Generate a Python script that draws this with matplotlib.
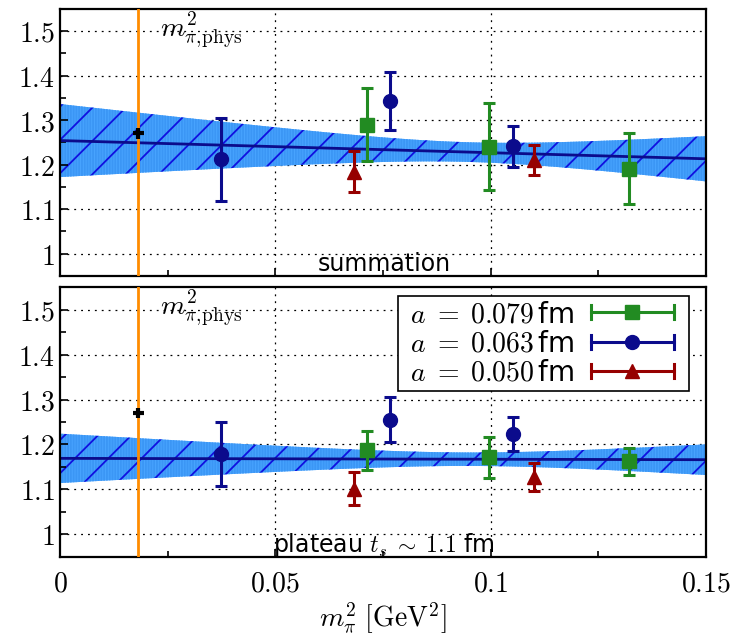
import numpy as np
import matplotlib
matplotlib.use("Agg")
import matplotlib.pyplot as plt
from matplotlib.lines import Line2D
from matplotlib.legend_handler import HandlerBase

plt.rcParams['mathtext.fontset'] = 'cm'
plt.rcParams['font.family'] = ['DejaVu Sans']
plt.rcParams['hatch.linewidth'] = 1.3

# ---------------- data ----------------
m_phys2 = 0.0182
phys_x_err = 0.0012
phys_sum, phys_sum_err = 1.27, 0.012
phys_plat, phys_plat_err = 1.27, 0.012

x_079 = [0.0714, 0.0997, 0.1322]
x_063 = [0.0374, 0.0766, 0.1052]
x_050 = [0.0683, 0.1101]

sum_079 = [1.290, 1.240, 1.191]
sum_079_err = [0.082, 0.098, 0.080]
sum_063 = [1.212, 1.342, 1.241]
sum_063_err = [0.093, 0.065, 0.046]
sum_050 = [1.184, 1.211]
sum_050_err = [0.046, 0.034]

plat_079 = [1.187, 1.171, 1.162]
plat_079_err = [0.044, 0.045, 0.030]
plat_063 = [1.179, 1.255, 1.223]
plat_063_err = [0.071, 0.050, 0.037]
plat_050 = [1.101, 1.128]
plat_050_err = [0.037, 0.031]

# linear fit parameters: intercept, slope, sigma_a, sigma_b, correlation
fit_sum = (1.254, -0.273, 0.082, 0.831, -0.963)
fit_plat = (1.169, -0.020, 0.055, 0.557, -0.962)

labels = [r' $a\;=\;0.079\,$fm', r' $a\;=\;0.063\,$fm', r' $a\;=\;0.050\,$fm']
colors = ['#228b22', '#0b0b8c', '#960000']
markers = ['s', 'o', '^']

ytick_vals = [1.0, 1.1, 1.2, 1.3, 1.4, 1.5]
ytick_labels = ['$1$', '$1.1$', '$1.2$', '$1.3$', '$1.4$', '$1.5$']
xtick_vals = [0, 0.05, 0.1, 0.15]
xtick_labels = ['$0$', '$0.05$', '$0.1$', '$0.15$']

# ---------------- figure ----------------
fig = plt.figure(figsize=(7.34, 6.4), dpi=100)
ax1 = fig.add_axes([0.0817, 0.5688, 0.8802, 0.4176])
ax2 = fig.add_axes([0.0817, 0.1302, 0.8802, 0.4209])

xx = np.linspace(0, 0.15, 300)


def band(ax, fit):
    a, b, sa, sb, rho = fit
    c = a + b * xx
    w = np.sqrt(sa**2 + 2 * rho * sa * sb * xx + sb**2 * xx**2)
    ax.fill_between(xx, c - w, c + w, facecolor='#48a4ff', edgecolor='none', zorder=1)
    ax.fill_between(xx, c - w, c + w, facecolor='none', edgecolor='#3b96f5',
                    hatch='||||||', linewidth=0, zorder=1.1)
    ax.fill_between(xx, c - w, c + w, facecolor='none', edgecolor='#1010e0',
                    hatch='/', linewidth=0, zorder=1.2)
    ax.plot(xx, c, color='#0b0b8c', lw=2, zorder=2)


def points(ax, xs_list, ys_list, es_list):
    for xs, ys, es, col, mk in zip(xs_list, ys_list, es_list, colors, markers):
        ms = 10 if mk in ('o', '^') else 9.5
        ax.errorbar(xs, ys, yerr=es, fmt=mk, color=col, ms=ms, elinewidth=2.2,
                    capsize=4, capthick=2.2, zorder=5)


for ax, fit, ys_list, es_list, phys, perr, txt in [
    (ax1, fit_sum, [sum_079, sum_063, sum_050], [sum_079_err, sum_063_err, sum_050_err],
     phys_sum, phys_sum_err, 'summation'),
    (ax2, fit_plat, [plat_079, plat_063, plat_050], [plat_079_err, plat_063_err, plat_050_err],
     phys_plat, phys_plat_err, r'plateau $t_s\;\sim\;1.1$ fm')]:
    ax.set_xlim(0, 0.15)
    ax.set_ylim(0.95, 1.55)
    for yv in ytick_vals:
        ax.axhline(yv, color='black', lw=0.9, ls=(0, (1.5, 4)), zorder=0.5)
    for xv in [0.05, 0.1]:
        ax.axvline(xv, color='black', lw=0.9, ls=(0, (1.5, 4)), zorder=0.5)
    band(ax, fit)
    ax.axvline(m_phys2, color='#ff8c00', lw=2, zorder=3)
    ax.errorbar([m_phys2], [phys], xerr=[phys_x_err], yerr=[perr], fmt='none',
                ecolor='black', elinewidth=3, capsize=0, zorder=6)
    points(ax, [x_079, x_063, x_050], ys_list, es_list)
    ax.text(0.0232, 1.505, r'$m^2_{\pi,\!\mathrm{phys}}$', fontsize=20, va='center',
            ha='left', zorder=7)
    ax.text(0.0752, 0.976, txt, fontsize=17, va='center', ha='center', zorder=7)
    ax.set_yticks(ytick_vals)
    ax.set_yticklabels(ytick_labels, fontsize=20)
    ax.set_yticks(np.arange(0.95, 1.551, 0.05), minor=True)
    ax.set_xticks(xtick_vals)
    ax.set_xticks([0.025, 0.075, 0.125], minor=True)
    ax.tick_params(which='both', direction='in', top=False, right=False)
    ax.tick_params(which='major', length=6, width=1.2)
    ax.tick_params(which='minor', length=4, width=1.2)
    for s in ax.spines.values():
        s.set_linewidth(1.6)

ax1.set_xticklabels([])
ax2.set_xticklabels(xtick_labels, fontsize=20)
ax2.tick_params(axis='x', pad=9)
ax2.set_xlabel(r'$m_\pi^2\ [\mathrm{GeV}^2]$', fontsize=20, labelpad=2)


class HBarHandler(HandlerBase):
    def __init__(self, color, marker):
        super().__init__()
        self.color = color
        self.marker = marker

    def create_artists(self, legend, orig_handle, xdescent, ydescent, width, height,
                       fontsize, trans):
        y = height / 2 - ydescent
        x0 = -xdescent
        x1 = x0 + width * 0.88
        c = 5
        arts = [
            Line2D([x0, x1], [y, y], color=self.color, lw=2.2),
            Line2D([x0, x0], [y - c, y + c], color=self.color, lw=2.2),
            Line2D([x1, x1], [y - c, y + c], color=self.color, lw=2.2),
            Line2D([(x0 + x1) / 2], [y], color=self.color, marker=self.marker, ms=10, lw=0),
        ]
        for a in arts:
            a.set_transform(trans)
        return arts


proxies = [Line2D([], [], color=c) for c in colors]
hmap = {p: HBarHandler(c, m) for p, c, m in zip(proxies, colors, markers)}
leg = ax2.legend(proxies, labels, handler_map=hmap, loc='upper right',
                 bbox_to_anchor=(0.974, 0.968), fontsize=20, markerfirst=False,
                 handlelength=3.4, frameon=True, fancybox=False, framealpha=1,
                 edgecolor='black', borderpad=0.15, labelspacing=0.05,
                 handletextpad=0.6, borderaxespad=0)
leg.get_frame().set_linewidth(1.2)
leg.set_zorder(10)

fig.savefig('out.png', dpi=100)
